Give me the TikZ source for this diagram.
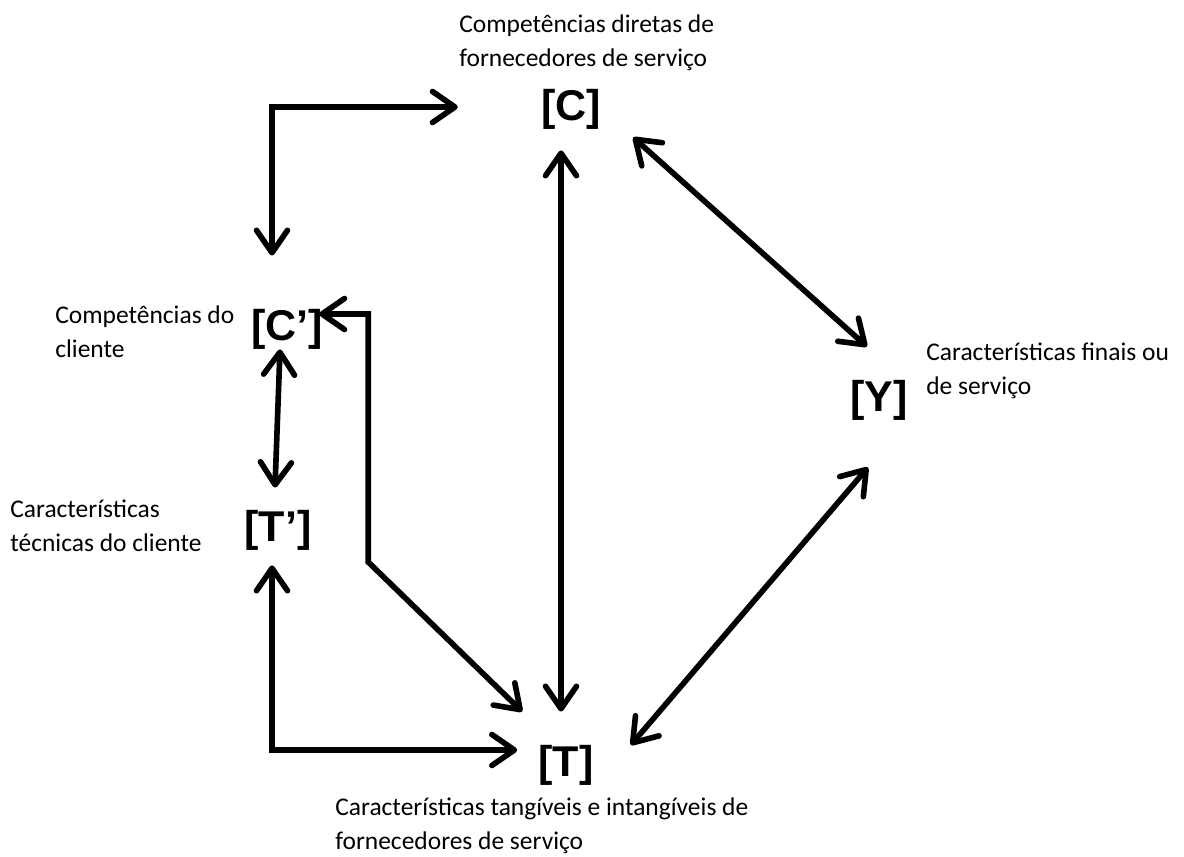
\documentclass[tikz,border=0pt]{standalone}
\usepackage{fontspec}
\setmainfont{Carlito}
\newfontfamily\labfont{Liberation Sans}
\usetikzlibrary{arrows.meta, positioning}

\begin{document}
\begin{tikzpicture}[x=0.02cm, y=-0.02cm,
    box/.style={font=\labfont\bfseries\fontsize{24.5}{24.5}\selectfont, inner sep=0pt},
    txt/.style={font=\fontsize{14.5}{19.5}\selectfont, align=left, anchor=west, inner sep=0pt},
    link/.style={>={Straight Barb[length=4.5mm, width=6.2mm, round]}, <->, line width=3.2pt}]
    \useasboundingbox (0,0) rectangle (1184,856);

    % variaveis
    \node[box] (C) at (571,109) {[C]};
    \node[box] (Cp) at (287,329) {[C’]};
    \node[box] (Tp) at (278,530) {[T’]};
    \node[box] (T) at (566,765) {[T]};
    \node[box] (Y) at (879,400) {[Y]};

    % descricoes
    \node[txt] (Clab) at (459,43) {Competências diretas de\\fornecedores de serviço};
    \node[txt] (Cplab) at (55,332) {Competências do\\cliente};
    \node[txt] (Tplab) at (10,526) {Características\\técnicas do cliente};
    \node[txt] (Ylab) at (926,371) {Características finais ou\\de serviço};
    \node[txt] (Tlab) at (335,826) {Características tangíveis e intangíveis de\\fornecedores de serviço};

    % ligacoes
    \draw[link] ([shift={(-15,-53)}]Cp.north) |- ([shift={(-83,-2)}]C.west);
    \draw[link] ([shift={(-10,21)}]C.south) -- ([shift={(-5,-33)}]T.north);
    \draw[link] ([shift={(32,8)}]C.south east) -- ([shift={(17,-33)}]Y.north west);
    \draw[link] ([shift={(-11,47)}]Y.south) -- ([shift={(37,-20)}]T.east);
    \draw[link] ([shift={(-7,0)}]Cp.south) -- ([shift={(-3,-22)}]Tp.north);
    \draw[link] ([shift={(-6,15)}]Tp.south) |- ([shift={(-21,-15)}]T.west);
    \draw[link] ([shift={(-4,-15)}]Cp.east) -| ++(49,248) -- ([shift={(-16,-33)}]T.north west);
\end{tikzpicture}
\end{document}
